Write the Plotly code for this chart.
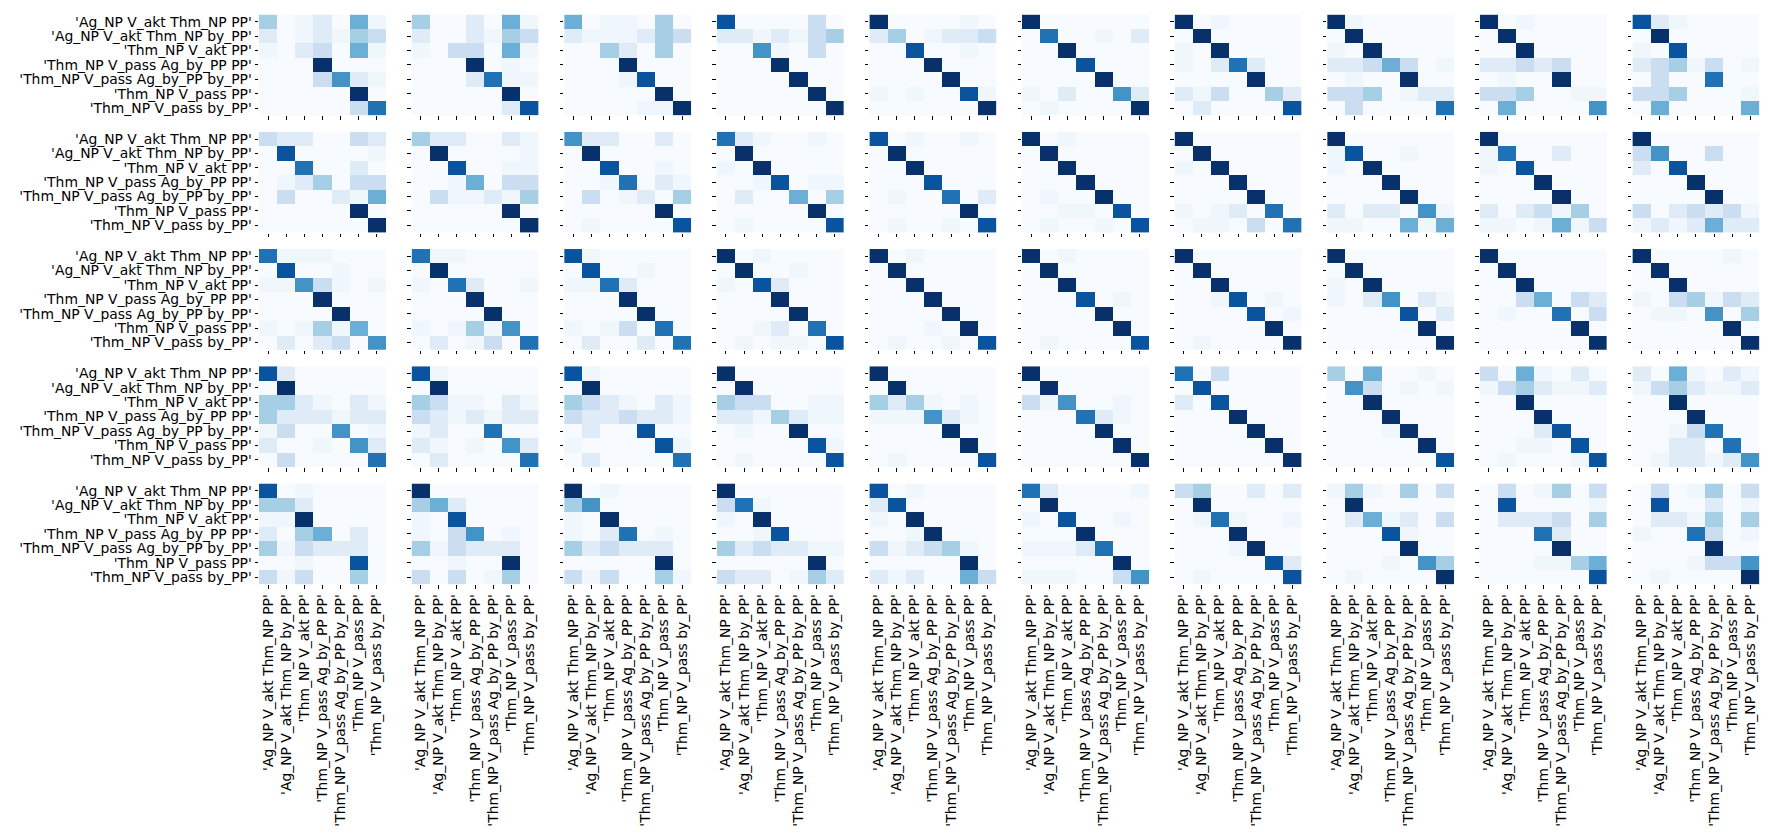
import plotly.graph_objects as go

# class labels (rows = true, columns = predicted)
labels = [
    "'Ag_NP V_akt Thm_NP PP'",
    "'Ag_NP V_akt Thm_NP by_PP'",
    "'Thm_NP V_akt PP'",
    "'Thm_NP V_pass Ag_by_PP PP'",
    "'Thm_NP V_pass Ag_by_PP by_PP'",
    "'Thm_NP V_pass PP'",
    "'Thm_NP V_pass by_PP'",
]

row1 = [
    ["4012051", "2012143", "1023051", "0009000", "0003621", "0000090", "0000037"],
    ["4002051", "2002143", "1033051", "0009010", "0002711", "0000090", "0000028"],
    ["5011040", "2111243", "0042040", "0009000", "0001800", "0000090", "0000119"],
    ["8000030", "2212134", "0061030", "0009000", "0000900", "0000090", "0000009"],
    ["9000010", "2401223", "0080010", "0009000", "0000900", "1010081", "0000009"],
    ["9000000", "0700102", "0090000", "0008000", "0000900", "1020062", "0100009"],
    ["9010000", "0900000", "1090000", "1027200", "0000900", "2130042", "0200008"],
    ["9100000", "0900000", "1090000", "2235301", "0100900", "3340122", "0300007"],
    ["9010000", "0900000", "0090000", "2232300", "0100900", "3340011", "0500006"],
    ["8210000", "0900000", "1080000", "2341301", "0300700", "3340001", "0500005"],
]
row2 = [
    ["3220032", "0800001", "0070020", "0124033", "0300215", "0000090", "0000009"],
    ["4220021", "0900001", "0080011", "0015033", "0311214", "0000090", "0000009"],
    ["6220020", "0900000", "0080010", "0017021", "0301204", "0000090", "0100008"],
    ["7210010", "0900000", "1090000", "0018011", "0200504", "0000090", "0100008"],
    ["8010010", "0900000", "0090000", "0008000", "0100702", "0000090", "0100108"],
    ["9010000", "0900000", "0090000", "0009000", "0100900", "0011080", "0100108"],
    ["9000000", "0900000", "1090000", "0009000", "0000900", "1012070", "0110307"],
    ["9000000", "1800100", "1090000", "0009000", "0000900", "2022061", "1100515"],
    ["9000000", "1700200", "1080000", "0009000", "0000900", "2023140", "1101513"],
    ["9000000", "3600300", "2080000", "0009000", "0000900", "3023231", "1212522"],
]
row3 = [
    ["7111000", "0800100", "1163101", "0009000", "0000900", "1014150", "0202306"],
    ["7110000", "0900000", "1072001", "0009000", "0000900", "1014160", "0201307"],
    ["8100000", "0800100", "1172000", "0009000", "0000900", "1013070", "0200207"],
    ["9010000", "0900100", "1082000", "0009000", "0000900", "0012070", "0101108"],
    ["9010000", "0900000", "0090000", "0009000", "0000900", "0001090", "0100108"],
    ["9010000", "0900000", "0090000", "0008010", "0000900", "0000090", "0100008"],
    ["9000000", "0900000", "0090000", "0018010", "0000801", "0000090", "0100009"],
    ["9000000", "0900000", "1090000", "1026021", "0000802", "0000090", "0000009"],
    ["9000000", "0900000", "0090000", "0035032", "0100703", "0000090", "0000009"],
    ["9000010", "0900000", "0090000", "1034132", "0110604", "0000090", "0000009"],
]
row4 = [
    ["8200000", "0900000", "4421021", "4222122", "1300601", "2001062", "0300007"],
    ["8100000", "0900000", "4311021", "3212122", "1200700", "2101062", "0200007"],
    ["8100000", "0900000", "4321021", "3223221", "0200800", "1000081", "0200007"],
    ["9000000", "0900000", "4330011", "2214211", "0100900", "0000081", "0100008"],
    ["9000000", "0900000", "4241010", "1116210", "0000900", "0000090", "0100008"],
    ["9000000", "0900000", "3160010", "0007210", "0000900", "0000090", "0000009"],
    ["7030000", "0800000", "2080000", "0009000", "0000900", "0000090", "0000009"],
    ["4050010", "0630101", "0090000", "0009000", "0001900", "0000090", "0000008"],
    ["3051020", "1342112", "0090000", "0009000", "0002800", "0011080", "0100018"],
    ["2051021", "1342112", "0090000", "0009000", "0013700", "0022070", "0122126"],
]
row5 = [
    ["8010000", "4420000", "1190000", "2045020", "4132220", "0010080", "3130040"],
    ["9000000", "4520000", "1080000", "1036010", "4132220", "0010090", "3030140"],
    ["9010000", "4600000", "1090000", "1027010", "4232220", "0000090", "3130041"],
    ["9000000", "3710000", "1090000", "0018000", "4232211", "0000090", "3220142"],
    ["8010000", "2800000", "1090000", "0019000", "3123410", "0000090", "2120053"],
    ["7200001", "0900000", "1080010", "0009000", "1112700", "0000090", "1110036"],
    ["3400202", "0900000", "0171001", "0009000", "0001900", "0000082", "0100008"],
    ["1410403", "0900000", "0251203", "0008100", "0000900", "0001064", "0100009"],
    ["0301403", "0800001", "0222304", "0007200", "0000900", "0001145", "0000008"],
    ["0301403", "0800201", "0221404", "1007301", "0000900", "0001336", "0100009"],
]
grid = [row1, row2, row3, row4, row5]

# matplotlib "Blues" sampled at the reading levels
blues = [
    [0 / 9, "#f7fbff"], [1 / 9, "#eff6fc"], [2 / 9, "#dfecf7"], [3 / 9, "#cbdef1"],
    [4 / 9, "#a6cee4"], [5 / 9, "#6baed6"], [6 / 9, "#4493c7"], [7 / 9, "#2171b5"],
    [8 / 9, "#0a539e"], [9 / 9, "#08306b"],
]

W, H = 1770, 835
LEFT, COL_STEP, CELL_W = 251, 152.6, 127
TOP, ROW_STEP, CELL_H = 5.6, 117.5, 101

fig = go.Figure()
layout = {}
for r, mats in enumerate(grid):
    for c, mat in enumerate(mats):
        k = r * 10 + c + 1
        z = [[int(ch) for ch in line] for line in mat]
        fig.add_trace(go.Heatmap(
            z=z, x=labels, y=labels, colorscale=blues, zmin=0, zmax=9,
            showscale=False, hoverinfo="skip",
            xaxis=f"x{k}", yaxis=f"y{k}"))
        x0 = LEFT + c * COL_STEP
        y0 = TOP + r * ROW_STEP
        sfx = "" if k == 1 else str(k)
        tick_style = dict(
            tickmode="array", tickvals=labels, ticktext=labels,
            ticks="outside", ticklen=3.5, tickwidth=0.8, tickcolor="black",
            showgrid=False, zeroline=False, showline=False, fixedrange=True)
        layout[f"xaxis{sfx}"] = dict(
            domain=[x0 / W, (x0 + CELL_W) / W], anchor=f"y{k}",
            showticklabels=(r == 4), tickangle=-90, **tick_style)
        layout[f"yaxis{sfx}"] = dict(
            domain=[1 - (y0 + CELL_H) / H, 1 - y0 / H], anchor=f"x{k}",
            autorange="reversed", showticklabels=(c == 0), **tick_style)

fig.update_layout(
    width=W, height=H,
    margin=dict(l=0, r=0, t=0, b=0),
    paper_bgcolor="white", plot_bgcolor="white",
    font=dict(family="DejaVu Sans", size=13.9, color="black"),
    showlegend=False,
    **layout,
)

fig.write_html("out.html")
